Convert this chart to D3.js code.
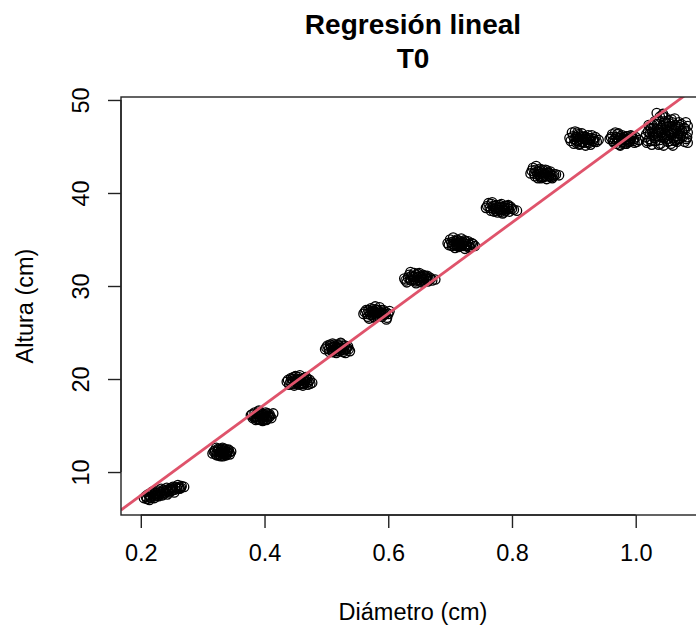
<!DOCTYPE html>
<html>
<head>
<meta charset="utf-8">
<script src="https://cdn.jsdelivr.net/npm/d3@7"></script>
<style>
  body { margin: 0; background: #fff; }
  text { font-family: "Liberation Sans", Arial, sans-serif; fill: #000; }
</style>
</head>
<body>
<div id="chart"></div>
<script>
// Diámetro (cm) y altura (cm), T0
const puntosT0 = [
  [0.205,7.2],[0.208,7.4],[0.210,7.1],[0.212,7.6],[0.215,7.3],[0.217,7.8],[0.220,7.5],[0.222,7.2],[0.224,7.7],[0.226,7.4],
  [0.228,8.0],[0.230,7.6],[0.232,7.9],[0.235,7.5],[0.237,8.1],[0.240,7.8],[0.242,8.3],[0.245,7.9],[0.247,8.2],[0.250,8.0],
  [0.252,8.4],[0.255,8.1],[0.258,8.3],[0.260,8.6],[0.263,8.2],[0.266,8.5],[0.270,8.4],[0.214,7.0],[0.219,7.9],[0.233,8.2],
  [0.243,7.6],[0.254,7.8],
  [0.209,7.3],[0.213,7.5],[0.216,7.2],[0.218,7.6],[0.221,7.4],[0.223,7.8],[0.225,7.5],[0.227,7.7],[0.229,7.4],[0.231,7.8],
  [0.234,7.7],[0.236,7.9],[0.238,7.7],[0.241,8.0],[0.244,8.1],[0.246,7.8],[0.249,8.3],[0.251,8.1],[0.256,8.4],[0.259,8.2],
  [0.262,8.4],[0.265,8.3],
  [0.316,12.0],[0.320,12.3],[0.323,11.8],[0.325,12.5],[0.327,12.1],[0.329,11.7],[0.330,12.4],[0.331,12.0],[0.332,12.6],[0.334,11.9],
  [0.335,12.2],[0.336,12.5],[0.338,11.8],[0.340,12.1],[0.342,12.4],[0.344,11.9],[0.346,12.2],[0.322,12.6],[0.328,12.2],[0.333,11.7],
  [0.337,12.0],[0.341,12.3],
  [0.318,12.2],[0.321,11.9],[0.324,12.2],[0.326,12.4],[0.328,11.9],[0.330,12.1],[0.332,12.3],[0.333,12.0],[0.335,11.9],[0.336,12.3],
  [0.339,12.2],[0.339,11.9],[0.343,12.1],[0.326,11.8],[0.331,12.5],
  [0.378,16.1],[0.381,15.8],[0.384,16.4],[0.386,15.6],[0.388,16.2],[0.390,16.5],[0.392,15.7],[0.394,16.0],[0.395,16.3],[0.397,15.5],
  [0.398,16.1],[0.400,15.9],[0.402,16.4],[0.404,15.7],[0.406,16.0],[0.408,16.2],[0.411,15.8],[0.414,16.3],[0.383,15.9],[0.391,16.6],
  [0.399,15.6],[0.407,15.9],
  [0.380,16.2],[0.385,16.0],[0.387,15.9],[0.389,16.3],[0.391,16.0],[0.393,16.2],[0.396,15.8],[0.396,16.2],[0.398,15.7],[0.401,16.2],
  [0.403,16.0],[0.405,16.3],[0.409,16.0],[0.393,15.6],[0.403,15.6],[0.388,15.7],
  [0.436,19.7],[0.440,19.4],[0.443,20.1],[0.446,19.8],[0.448,19.3],[0.450,20.3],[0.452,19.6],[0.454,20.0],[0.456,19.4],[0.457,20.4],
  [0.459,19.8],[0.461,19.5],[0.463,20.1],[0.465,19.7],[0.467,20.2],[0.470,19.4],[0.473,19.9],[0.477,19.6],[0.445,20.0],[0.453,19.9],
  [0.462,19.3],[0.469,20.0],
  [0.438,19.9],[0.442,19.7],[0.444,19.5],[0.447,20.2],[0.449,19.9],[0.451,19.7],[0.455,19.7],[0.455,20.2],[0.458,20.0],[0.460,19.6],
  [0.462,19.9],[0.464,19.5],[0.466,19.9],[0.468,19.6],[0.471,19.7],[0.474,19.5],[0.449,19.5],[0.457,19.5],
  [0.498,23.2],[0.502,23.6],[0.505,22.9],[0.508,23.4],[0.510,23.8],[0.512,23.1],[0.514,23.5],[0.516,22.8],[0.518,23.7],[0.520,23.3],
  [0.521,23.0],[0.523,23.9],[0.525,23.4],[0.527,22.9],[0.530,23.6],[0.532,23.2],[0.535,23.5],[0.538,23.0],[0.506,23.7],[0.515,23.3],
  [0.524,23.8],[0.531,22.8],
  [0.500,23.4],[0.504,23.2],[0.507,23.6],[0.509,23.1],[0.511,23.4],[0.513,23.7],[0.515,23.0],[0.517,23.4],[0.519,23.0],[0.520,23.6],
  [0.522,23.3],[0.524,23.1],[0.526,23.6],[0.528,23.3],[0.529,23.1],[0.533,23.4],[0.536,23.2],[0.510,22.9],
  [0.560,27.0],[0.564,27.4],[0.567,26.7],[0.570,27.2],[0.572,27.6],[0.574,26.9],[0.576,27.3],[0.578,26.6],[0.580,27.5],[0.582,27.1],
  [0.584,26.8],[0.586,27.7],[0.588,27.2],[0.590,26.7],[0.592,27.4],[0.595,27.0],[0.598,26.6],[0.602,27.3],[0.569,26.5],[0.579,27.8],
  [0.589,27.0],[0.597,26.4],
  [0.562,27.2],[0.566,27.0],[0.568,27.4],[0.571,26.9],[0.573,27.2],[0.575,27.5],[0.577,27.0],[0.579,27.2],[0.581,26.8],[0.583,27.4],
  [0.585,27.1],[0.587,26.9],[0.589,27.4],[0.591,27.1],[0.593,26.9],[0.596,27.2],[0.600,27.0],[0.576,26.7],
  [0.626,30.8],[0.630,30.4],[0.634,31.2],[0.637,30.6],[0.640,31.0],[0.642,31.4],[0.644,30.5],[0.646,30.9],[0.648,31.3],[0.650,30.7],
  [0.652,31.1],[0.654,30.4],[0.656,31.2],[0.658,30.8],[0.661,31.0],[0.664,30.5],[0.667,30.9],[0.671,30.6],[0.636,31.5],[0.645,30.3],
  [0.655,30.7],[0.663,31.1],[0.676,30.7],
  [0.628,30.6],[0.632,30.9],[0.635,30.7],[0.638,31.1],[0.641,30.7],[0.643,31.0],[0.645,31.2],[0.647,30.6],[0.649,31.0],[0.651,30.5],
  [0.653,30.9],[0.655,31.0],[0.657,30.6],[0.659,31.1],[0.662,30.8],[0.665,30.7],[0.669,30.8],[0.650,31.4],
  [0.696,34.6],[0.700,35.0],[0.703,34.3],[0.706,34.8],[0.708,34.1],[0.710,34.5],[0.712,34.9],[0.714,34.2],[0.716,34.6],[0.718,35.1],
  [0.720,34.4],[0.722,34.7],[0.724,34.0],[0.726,34.5],[0.729,34.8],[0.732,34.2],[0.735,34.6],[0.740,34.3],[0.705,35.2],[0.713,34.4],
  [0.723,34.9],[0.731,34.1],
  [0.698,34.4],[0.702,34.7],[0.704,34.5],[0.707,34.4],[0.709,34.8],[0.711,34.3],[0.713,34.7],[0.715,34.4],[0.717,34.8],[0.719,34.3],
  [0.721,34.6],[0.723,34.3],[0.725,34.8],[0.727,34.3],[0.730,34.5],[0.733,34.4],[0.737,34.5],[0.711,35.0],
  [0.758,38.4],[0.762,38.9],[0.766,38.1],[0.769,38.6],[0.771,38.0],[0.773,38.3],[0.775,38.7],[0.777,37.9],[0.779,38.5],[0.781,38.2],
  [0.783,38.8],[0.785,37.8],[0.787,38.4],[0.790,38.1],[0.793,38.6],[0.796,38.0],[0.800,38.3],[0.808,38.1],[0.768,39.0],[0.776,38.5],
  [0.786,37.9],[0.794,38.7],
  [0.760,38.6],[0.764,38.4],[0.767,38.8],[0.770,38.3],[0.772,38.6],[0.774,38.1],[0.776,38.4],[0.778,38.2],[0.780,38.7],[0.782,38.0],
  [0.784,38.5],[0.786,38.2],[0.788,38.6],[0.789,38.3],[0.792,38.4],[0.795,38.3],[0.798,38.5],[0.803,38.2],
  [0.830,42.1],[0.834,42.7],[0.837,41.8],[0.840,42.3],[0.842,41.6],[0.844,42.0],[0.846,42.4],[0.848,41.7],[0.850,42.2],[0.852,41.9],
  [0.854,42.5],[0.856,41.5],[0.858,42.1],[0.860,41.8],[0.862,42.3],[0.865,41.6],[0.868,42.0],[0.876,41.9],[0.839,42.9],[0.847,41.6],
  [0.857,42.4],[0.863,41.7],
  [0.832,42.4],[0.836,42.1],[0.838,42.5],[0.841,42.0],[0.843,42.3],[0.845,41.8],[0.847,42.1],[0.849,42.5],[0.851,41.7],[0.853,42.1],
  [0.855,41.8],[0.857,42.2],[0.859,41.9],[0.861,42.1],[0.864,41.9],[0.867,41.8],[0.871,42.0],[0.845,42.6],
  [0.893,45.9],[0.897,46.5],[0.900,45.3],[0.903,46.0],[0.905,45.6],[0.907,46.3],[0.909,45.2],[0.911,45.8],[0.913,46.4],[0.915,45.5],
  [0.917,46.1],[0.919,45.1],[0.921,45.7],[0.923,46.2],[0.925,45.4],[0.928,45.9],[0.931,45.6],[0.935,46.0],[0.940,45.7],[0.902,46.6],
  [0.910,45.3],[0.920,46.0],[0.927,45.2],[0.933,45.5],
  [0.895,45.6],[0.899,46.1],[0.901,45.8],[0.904,45.4],[0.906,46.0],[0.908,45.7],[0.910,46.1],[0.912,45.5],[0.914,46.0],[0.916,45.8],
  [0.918,45.4],[0.920,45.8],[0.922,45.5],[0.924,45.9],[0.926,45.7],[0.929,46.2],[0.932,45.8],[0.937,45.5],[0.906,46.5],
  [0.958,45.8],[0.962,46.3],[0.965,45.4],[0.968,46.0],[0.970,45.6],[0.972,46.4],[0.974,45.2],[0.976,45.9],[0.978,46.2],[0.980,45.5],
  [0.982,46.0],[0.984,45.3],[0.986,45.8],[0.988,46.1],[0.990,45.5],[0.993,45.9],[0.996,45.6],[1.000,46.0],[1.005,45.7],[0.967,46.5],
  [0.975,45.1],[0.985,45.3],[0.992,46.2],[0.998,45.4],
  [0.960,46.0],[0.963,45.6],[0.966,45.8],[0.969,45.3],[0.971,45.9],[0.973,45.6],[0.975,46.1],[0.977,45.5],[0.979,45.8],[0.981,45.3],
  [0.983,45.7],[0.985,46.1],[0.987,45.5],[0.989,45.8],[0.991,45.6],[0.994,46.1],[0.997,45.8],[1.002,45.5],[0.970,46.3],
  [1.015,46.0],[1.018,45.4],[1.020,46.6],[1.022,45.8],[1.024,47.0],[1.026,45.2],[1.028,46.3],[1.030,47.4],[1.032,45.6],[1.034,46.9],
  [1.036,46.1],[1.038,47.8],[1.040,45.3],[1.042,46.5],[1.044,47.2],[1.046,45.9],[1.048,48.1],[1.050,46.7],[1.052,45.5],[1.054,47.5],
  [1.056,46.2],[1.058,47.9],[1.060,45.1],[1.062,46.8],[1.064,47.3],[1.066,45.7],[1.068,46.4],[1.070,47.6],[1.072,45.9],[1.075,46.6],
  [1.078,47.0],[1.082,45.8],[1.084,46.5],[1.084,45.4],[1.084,47.2],[1.025,46.9],[1.031,47.7],[1.037,45.2],[1.043,48.3],[1.047,46.0],
  [1.051,47.1],[1.055,45.6],[1.059,46.9],[1.063,48.0],[1.067,45.5],[1.071,47.3],[1.029,46.2],[1.041,46.4],[1.049,47.5],[1.057,45.3],
  [1.065,46.9],[1.039,48.2],[1.053,47.8],[1.045,45.1],[1.061,45.9],[1.035,46.6],[1.073,46.2],[1.027,47.3],[1.069,47.1],[1.047,46.4],
  [1.034,48.6],[1.044,48.5],
  [1.017,46.3],[1.019,45.6],[1.021,47.3],[1.023,46.4],[1.025,45.6],[1.027,46.6],[1.029,47.0],[1.031,45.9],[1.033,46.4],[1.035,47.4],
  [1.037,46.8],[1.039,45.7],[1.041,47.0],[1.043,46.0],[1.045,46.8],[1.047,47.7],[1.049,46.2],[1.051,45.8],[1.053,46.6],[1.055,47.2],
  [1.057,46.4],[1.059,47.6],[1.061,46.5],[1.063,45.6],[1.065,47.0],[1.067,46.1],[1.069,45.8],[1.071,46.7],[1.074,47.4],[1.077,46.1],
  [1.080,46.9],[1.081,47.6],[1.083,46.0],[1.079,45.5]
];

// Recta de regresión ajustada (altura = a + b * diámetro)
const intercepto = -2.3;
const pendiente = 48.9;

const ticksX = [0.2, 0.4, 0.6, 0.8, 1.0];
const ticksY = [10, 20, 30, 40, 50];

const W = 696, H = 630;
const box = { left: 121, top: 97, right: 705, bottom: 515 };
const fs = 23.5;

const svg = d3.select("#chart").append("svg")
    .attr("width", W)
    .attr("height", H);

const x = d3.scaleLinear().domain([0.168, 1.112]).range([box.left, box.right]);
const y = d3.scaleLinear().domain([5.38, 50.32]).range([box.bottom, box.top]);

svg.append("clipPath").attr("id", "plotclip")
    .append("rect")
    .attr("x", box.left).attr("y", box.top)
    .attr("width", box.right - box.left).attr("height", box.bottom - box.top);

const plot = svg.append("g").attr("clip-path", "url(#plotclip)");

// puntos (pch = 1)
plot.selectAll("circle")
    .data(puntosT0)
    .enter().append("circle")
    .attr("cx", d => x(d[0]))
    .attr("cy", d => y(d[1]))
    .attr("r", 4.7)
    .attr("fill", "none")
    .attr("stroke", "#000")
    .attr("stroke-width", 1.3);

// abline
const xs = x.domain();
plot.append("path")
    .datum(xs)
    .attr("fill", "none")
    .attr("stroke", "#DF536B")
    .attr("stroke-width", 2.8)
    .attr("d", d3.line().x(d => x(d)).y(d => y(intercepto + pendiente * d)));

// caja
svg.append("rect")
    .attr("x", box.left).attr("y", box.top)
    .attr("width", box.right - box.left).attr("height", box.bottom - box.top)
    .attr("fill", "none")
    .attr("stroke", "#222")
    .attr("stroke-width", 1.4);

// eje x
const gx = svg.append("g")
    .attr("transform", `translate(0,${box.bottom})`)
    .call(d3.axisBottom(x).tickValues(ticksX).tickFormat(d3.format(".1f")).tickSize(13).tickPadding(0));
gx.select(".domain")
    .attr("d", `M${x(ticksX[0])},0H${x(ticksX[ticksX.length - 1])}`)
    .attr("stroke", "#222").attr("stroke-width", 1.4);
gx.selectAll(".tick line").attr("stroke", "#222").attr("stroke-width", 1.4);
gx.selectAll(".tick text")
    .attr("y", 46).attr("dy", null)
    .style("font-size", fs + "px")
    .style("font-family", "Liberation Sans, Arial, sans-serif")
    .attr("fill", "#000");

// eje y
const gy = svg.append("g")
    .attr("transform", `translate(${box.left},0)`)
    .call(d3.axisLeft(y).tickValues(ticksY).tickFormat(d3.format("d")).tickSize(13).tickPadding(0));
gy.select(".domain")
    .attr("d", `M0,${y(ticksY[0])}V${y(ticksY[ticksY.length - 1])}`)
    .attr("stroke", "#222").attr("stroke-width", 1.4);
gy.selectAll(".tick line").attr("stroke", "#222").attr("stroke-width", 1.4);
gy.selectAll(".tick text")
    .attr("x", null).attr("dy", null)
    .attr("text-anchor", "middle")
    .attr("transform", "translate(-32,0) rotate(-90)")
    .style("font-size", fs + "px")
    .style("font-family", "Liberation Sans, Arial, sans-serif")
    .attr("fill", "#000");

// títulos
svg.append("text")
    .attr("x", (box.left + box.right) / 2).attr("y", 34)
    .attr("text-anchor", "middle")
    .style("font-size", "28px").style("font-weight", "bold")
    .text("Regresión lineal");
svg.append("text")
    .attr("x", (box.left + box.right) / 2).attr("y", 68)
    .attr("text-anchor", "middle")
    .style("font-size", "28px").style("font-weight", "bold")
    .text("T0");

svg.append("text")
    .attr("x", (box.left + box.right) / 2).attr("y", 620)
    .attr("text-anchor", "middle")
    .style("font-size", fs + "px")
    .text("Diámetro (cm)");

svg.append("text")
    .attr("transform", `translate(33,${(box.top + box.bottom) / 2}) rotate(-90)`)
    .attr("text-anchor", "middle")
    .style("font-size", fs + "px")
    .text("Altura (cm)");
</script>
</body>
</html>
